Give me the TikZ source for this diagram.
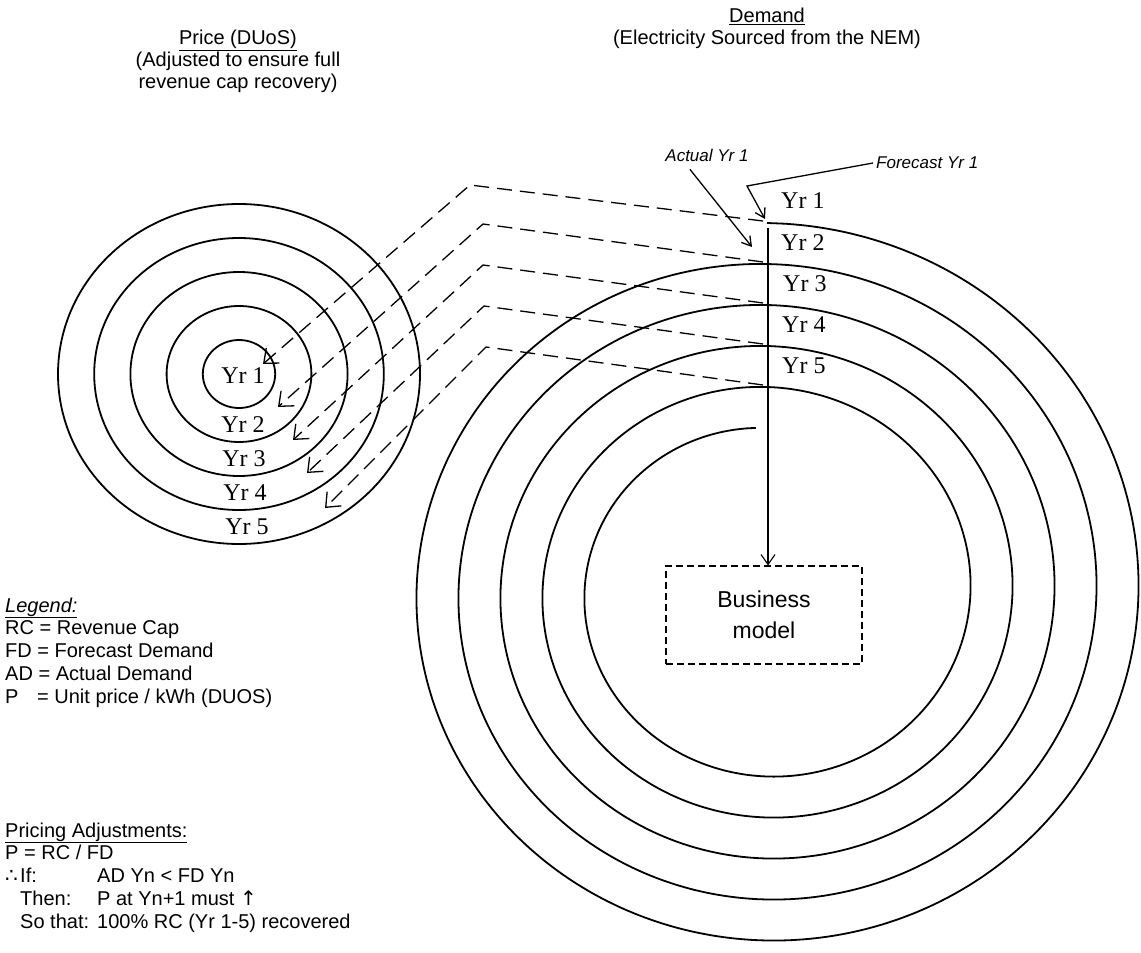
\documentclass[tikz,border=0pt]{standalone}
\usepackage{fontspec}
\setsansfont{Liberation Sans}
\newfontfamily\symfont{DejaVu Sans}
\newfontfamily\yrfont{Liberation Serif}
\usetikzlibrary{positioning, arrows.meta, calc}

\begin{document}
\begin{tikzpicture}[
                x=1pt, y=-1pt,
                ring/.style={line width=1.8pt},
                yrlabel/.style={font=\yrfont\fontsize{24}{26}\selectfont, inner sep=0pt},
                title/.style={font=\sffamily\fontsize{20}{22}\selectfont, align=center, inner sep=0pt},
                note/.style={font=\sffamily\itshape\fontsize{17}{20}\selectfont, inner sep=0pt},
                leader/.style={line width=1.3pt, -{Straight Barb[length=9pt, width=11pt]}},
                feed/.style={line width=1.3pt, dash pattern=on 15pt off 8pt, -{Straight Barb[length=12pt, width=20pt]}},
                legtext/.style={font=\sffamily\fontsize{20}{22}\selectfont, anchor=west, inner xsep=0pt, inner ysep=2.25pt, text height=14pt, text depth=4pt},
                bmbox/.style={draw, line width=1.1pt, dash pattern=on 7pt off 4pt, minimum width=196pt, minimum height=98pt, align=center, font=\sffamily\fontsize{23}{31}\selectfont}
            ]

            \useasboundingbox (0,0) rectangle (1141,953);

            % Titel
            \node[title] (price) at (238,61) {\underline{Price (DUoS)}\\(Adjusted to ensure full\\revenue cap recovery)};
            \node[title] (demand) at (767,28) {\underline{Demand}\\(Electricity Sourced from the NEM)};

            % Preis-Kreise
            \coordinate (lc) at (239,374);
            \foreach \k in {1,...,5}
                \draw[ring] (lc) ellipse [x radius=\k*36.2pt, y radius=\k*34pt];
            \node[yrlabel] (yl1) at (243,376) {Yr 1};
            \node[yrlabel] (yl2) at (243,425) {Yr 2};
            \node[yrlabel] (yl3) at (244,459) {Yr 3};
            \node[yrlabel] (yl4) at (245,493) {Yr 4};
            \node[yrlabel] (yl5) at (247,527) {Yr 5};

            % Nachfrage-Spirale
            \draw[ring] plot[domain=0:4.99, samples=600, smooth, variable=\t]
                ({767+(382-42*\t)*cos(90-360*\t)}, {592-(369-41*\t)*sin(90-360*\t)});
            \node[yrlabel, anchor=west] (yr1) at (781,201) {Yr 1};
            \node[yrlabel, anchor=west] (yr2) at (781,243) {Yr 2};
            \node[yrlabel, anchor=west] (yr3) at (783,284) {Yr 3};
            \node[yrlabel, anchor=west] (yr4) at (782,325) {Yr 4};
            \node[yrlabel, anchor=west] (yr5) at (782,366) {Yr 5};

            % Geschaeftsmodell
            \node[bmbox] (bm) at (764,615) {Business\\model};
            \coordinate (vtop) at (768,228);
            \draw[leader, line width=1.1pt, -{Straight Barb[length=10pt, width=14pt]}] (vtop) -- (vtop |- bm.north);

            % Hinweise
            \node[note] (act) at (707,155) {Actual Yr 1};
            \node[note, anchor=west] (fc) at (876,163) {Forecast Yr 1};
            \coordinate (actTip) at (752,247);
            \coordinate (fcBend) at (747,186);
            \coordinate (fcTip) at (765,219);
            \draw[leader] ([xshift=-17pt, yshift=-8pt]act.south) -- (actTip);
            \draw[leader] ([xshift=-3pt]fc.west) -- (fcBend) -- (fcTip);

            % Rueckkopplung (gestrichelt)
            \coordinate (d1) at (763,221);
            \coordinate (d2) at (763,262);
            \coordinate (d3) at (763,303);
            \coordinate (d4) at (763,344);
            \coordinate (d5) at (763,385);
            \coordinate (c1) at (470,185);
            \coordinate (c2) at (483,224);
            \coordinate (c3) at (483,265);
            \coordinate (c4) at (484,306);
            \coordinate (c5) at (486,347);
            \coordinate (p1) at (263,364);
            \coordinate (p2) at (278,407);
            \coordinate (p3) at (293,440);
            \coordinate (p4) at (307,473);
            \coordinate (p5) at (325,508);
            \foreach \i in {1,...,5}
                \draw[feed] (d\i) -- (c\i) -- (p\i);

            % Legende
            \node[legtext] (lg0) at (5,607) {\textit{\underline{Legend:}}};
            \node[legtext, below=0pt of lg0.south west, anchor=north west] (lg1) {RC = Revenue Cap};
            \node[legtext, below=0pt of lg1.south west, anchor=north west] (lg2) {FD = Forecast Demand};
            \node[legtext, below=0pt of lg2.south west, anchor=north west] (lg3) {AD = Actual Demand};
            \node[legtext, below=0pt of lg3.south west, anchor=north west] (lg4) {\makebox[32pt][l]{P}= Unit price / kWh (DUOS)};

            % Preisanpassung
            \coordinate (colB) at (97,0);
            \node[legtext] (pa0) at (5,832) {\underline{Pricing Adjustments:}};
            \node[legtext, below=0pt of pa0.south west, anchor=north west] (pa1) {P = RC / FD};
            \node[legtext, below=0pt of pa1.south west, anchor=north west] (pa2) {\makebox[15pt][l]{\symfont ∴}If:};
            \node[legtext, below=0pt of pa2.south west, anchor=north west] (pa3) {\hspace*{15pt}Then:};
            \node[legtext, below=0pt of pa3.south west, anchor=north west] (pa4) {\hspace*{15pt}So that:};
            \node[legtext] (pb2) at (pa2.west -| colB) {AD Yn < FD Yn};
            \node[legtext] (pb3) at (pa3.west -| colB) {P at Yn+1 must {\symfont ↑}};
            \node[legtext] (pb4) at (pa4.west -| colB) {100\% RC (Yr 1-5) recovered};

        \end{tikzpicture}
\end{document}
